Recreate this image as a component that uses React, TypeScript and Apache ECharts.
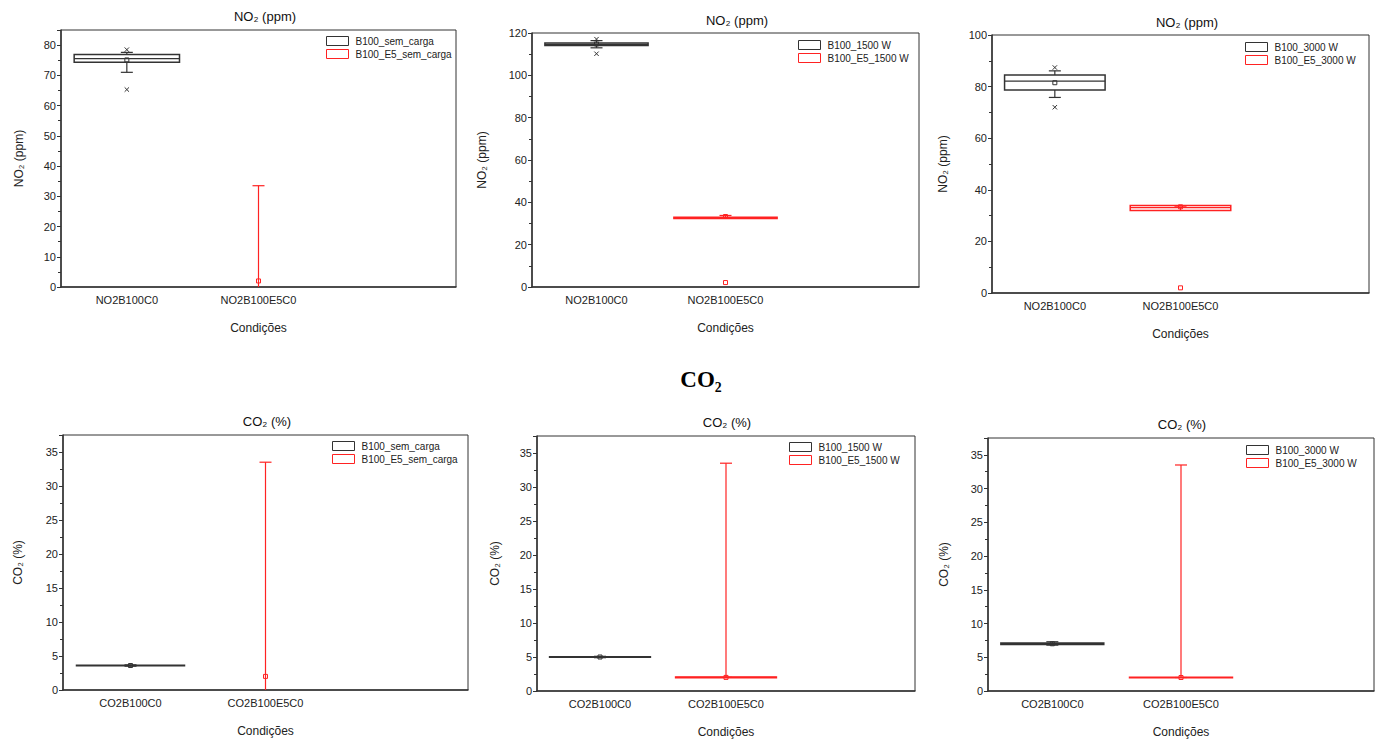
import React, { useEffect, useRef } from "react";
import * as echarts from "echarts";

// ---------- DATA ----------
const NO2_CATEGORIES = ["NO2B100C0", "NO2B100E5C0", ""];
const CO2_CATEGORIES = ["CO2B100C0", "CO2B100E5C0", ""];

// box statistics: [min, q1, median, q3, max, mean]
const NO2_B100_SEM_CARGA = [71, 74.3, 75.5, 76.9, 77.6, 75.1];
const NO2_B100_E5_SEM_CARGA = [0, 0, 0, 0, 33.5, 2];
const NO2_B100_1500 = [113, 114.1, 114.6, 115.3, 116.4, 114.8];
const NO2_B100_E5_1500 = [32.4, 32.4, 32.6, 32.9, 33.8, 33.3];
const NO2_B100_3000 = [75.8, 78.7, 82.1, 84.5, 86.1, 81.5];
const NO2_B100_E5_3000 = [33.2, 32.0, 33.1, 33.9, 33.7, 33.4];

const CO2_B100_SEM_CARGA = [3.5, 3.55, 3.6, 3.65, 3.7, 3.6];
const CO2_B100_E5_SEM_CARGA = [0, 0, 0, 0, 33.5, 2];
const CO2_B100_1500 = [4.9, 4.95, 5.0, 5.05, 5.1, 5.0];
const CO2_B100_E5_1500 = [2, 2, 2, 2, 33.5, 2];
const CO2_B100_3000 = [6.8, 6.88, 7.0, 7.12, 7.3, 7.0];
const CO2_B100_E5_3000 = [2, 2, 2, 2, 33.5, 2];

// outliers
const NO2_B100_SEM_CARGA_OUT = [65.3, 78.5];
const NO2_B100_E5_SEM_CARGA_OUT: number[] = [];
const NO2_B100_1500_OUT = [110.2, 117.1];
const NO2_B100_E5_1500_OUT = [2.1];
const NO2_B100_3000_OUT = [72.0, 87.4];
const NO2_B100_E5_3000_OUT = [2.0];

const LEGEND_NAMES = [
  ["B100_sem_carga", "B100_E5_sem_carga"],
  ["B100_1500 W", "B100_E5_1500 W"],
  ["B100_3000 W", "B100_E5_3000 W"],
];

const Y_MAX = [85, 120, 100, 37.5, 37.5, 37.5];
const Y_INTERVAL = [10, 20, 20, 5, 5, 5];

// ---------- LAYOUT / STYLE ----------
const FONT = "Liberation Sans, Arial, sans-serif";
const DARK = "#333333";
const RED = "#ff2222";

const GRIDS = [
  { left: 61, top: 30, right: 456, bottom: 287 },
  { left: 532, top: 33, right: 919, bottom: 287 },
  { left: 992, top: 35, right: 1369, bottom: 293 },
  { left: 63, top: 435, right: 468, bottom: 690 },
  { left: 537, top: 436, right: 915, bottom: 691 },
  { left: 988, top: 438, right: 1374, bottom: 691 },
];
const TITLE_POS = [
  [265, 16], [737, 20], [1187, 22],
  [267, 421], [727, 422], [1182, 424],
];
const LEGEND_POS = [
  [326, 36], [798, 40], [1245, 42],
  [332, 441], [789, 442], [1246, 445],
];
const Y_NAME_GAP = [36, 44, 43, 39, 36, 38];

function boxRender(color: string) {
  return (params: any, api: any) => {
    const cat = api.value(0);
    const cx = api.coord([cat, 0])[0];
    const band = api.size([1, 0])[0];
    const w = band * 0.8;
    const capW = 12;
    const y = (i: number) => api.coord([cat, api.value(i)])[1];
    const yMin = y(1), yQ1 = y(2), yMed = y(3), yQ3 = y(4), yMax = y(5), yMean = y(6);
    const st = { stroke: color, lineWidth: 1.2, fill: null };
    const rawH = yQ1 - yQ3;
    const h = Math.max(rawH, 0.6);
    const onBaseline = api.value(4) <= 0;
    const children: any[] = [
      { type: "line", shape: { x1: cx, y1: yMin, x2: cx, y2: yQ1 }, style: st },
      { type: "line", shape: { x1: cx, y1: yQ3, x2: cx, y2: yMax }, style: st },
      { type: "line", shape: { x1: cx - capW / 2, y1: yMax, x2: cx + capW / 2, y2: yMax }, style: st },
      { type: "rect", shape: { x: cx - 2, y: yMean - 2, width: 4, height: 4 }, style: { stroke: color, lineWidth: 1, fill: null } },
    ];
    if (!onBaseline) {
      children.push(
        { type: "line", shape: { x1: cx - capW / 2, y1: yMin, x2: cx + capW / 2, y2: yMin }, style: st },
        { type: "rect", shape: { x: cx - w / 2, y: yQ3 - (h - Math.max(rawH, 0)) / 2, width: w, height: h }, style: { ...st, lineWidth: 1.5 } },
        { type: "line", shape: { x1: cx - w / 2, y1: yMed, x2: cx + w / 2, y2: yMed }, style: st },
      );
    }
    return { type: "group", children };
  };
}

function outlierRender(color: string, kind: "cross" | "square") {
  return (params: any, api: any) => {
    const p = api.coord([api.value(0), api.value(1)]);
    const s = 2.2;
    if (kind === "square") {
      return { type: "rect", shape: { x: p[0] - 2, y: p[1] - 2, width: 4, height: 4 }, style: { stroke: color, lineWidth: 1, fill: null } };
    }
    return {
      type: "group",
      children: [
        { type: "line", shape: { x1: p[0] - s, y1: p[1] - s, x2: p[0] + s, y2: p[1] + s }, style: { stroke: color, lineWidth: 1 } },
        { type: "line", shape: { x1: p[0] - s, y1: p[1] + s, x2: p[0] + s, y2: p[1] - s }, style: { stroke: color, lineWidth: 1 } },
      ],
    };
  };
}

const PANELS = [
  { cats: NO2_CATEGORIES, black: NO2_B100_SEM_CARGA, red: NO2_B100_E5_SEM_CARGA, bo: NO2_B100_SEM_CARGA_OUT, ro: NO2_B100_E5_SEM_CARGA_OUT, names: LEGEND_NAMES[0], title: "NO₂ (ppm)" },
  { cats: NO2_CATEGORIES, black: NO2_B100_1500, red: NO2_B100_E5_1500, bo: NO2_B100_1500_OUT, ro: NO2_B100_E5_1500_OUT, names: LEGEND_NAMES[1], title: "NO₂ (ppm)" },
  { cats: NO2_CATEGORIES, black: NO2_B100_3000, red: NO2_B100_E5_3000, bo: NO2_B100_3000_OUT, ro: NO2_B100_E5_3000_OUT, names: LEGEND_NAMES[2], title: "NO₂ (ppm)" },
  { cats: CO2_CATEGORIES, black: CO2_B100_SEM_CARGA, red: CO2_B100_E5_SEM_CARGA, bo: [], ro: [], names: LEGEND_NAMES[0], title: "CO₂ (%)" },
  { cats: CO2_CATEGORIES, black: CO2_B100_1500, red: CO2_B100_E5_1500, bo: [], ro: [], names: LEGEND_NAMES[1], title: "CO₂ (%)" },
  { cats: CO2_CATEGORIES, black: CO2_B100_3000, red: CO2_B100_E5_3000, bo: [], ro: [], names: LEGEND_NAMES[2], title: "CO₂ (%)" },
];

export default function App() {
  const ref = useRef<HTMLDivElement>(null);
  useEffect(() => {
    if (!ref.current) return;
    const chart = echarts.init(ref.current, undefined, { renderer: "svg" });

    const grid: any[] = [];
    const xAxis: any[] = [];
    const yAxis: any[] = [];
    const legend: any[] = [];
    const series: any[] = [];
    const graphic: any[] = [];

    PANELS.forEach((p, i) => {
      const g = GRIDS[i];
      grid.push({
        left: g.left, top: g.top, width: g.right - g.left, height: g.bottom - g.top,
        show: true, borderColor: DARK, borderWidth: 1, backgroundColor: "transparent",
      });
      xAxis.push({
        gridIndex: i, type: "category", data: p.cats, boundaryGap: true,
        axisLine: { lineStyle: { color: DARK, width: 1.5 } },
        axisTick: { alignWithLabel: true, length: 4, lineStyle: { color: DARK } },
        axisLabel: { interval: 0, fontSize: 11, color: "#222", margin: 7, fontFamily: FONT },
        splitLine: { show: false },
        name: "Condições", nameLocation: "middle", nameGap: 35,
        nameTextStyle: { fontSize: 12, color: "#222", fontFamily: FONT },
      });
      const iv = Y_INTERVAL[i];
      yAxis.push({
        gridIndex: i, type: "value", min: 0, max: Y_MAX[i], interval: iv,
        axisLine: { show: true, lineStyle: { color: DARK, width: 1.5 } },
        axisTick: { show: true, length: 4, lineStyle: { color: DARK } },
        minorTick: { show: true, splitNumber: 2, length: 3, lineStyle: { color: DARK } },
        splitLine: { show: false },
        axisLabel: {
          fontSize: 11, color: "#222", margin: 5, fontFamily: FONT,
          formatter: (v: number) => (Math.abs(v / iv - Math.round(v / iv)) < 1e-9 ? String(v) : ""),
        },
        name: p.title, nameLocation: "middle", nameGap: Y_NAME_GAP[i],
        nameTextStyle: { fontSize: 12, color: "#222", fontFamily: FONT },
      });
      legend.push({
        orient: "vertical", left: LEGEND_POS[i][0], top: LEGEND_POS[i][1],
        itemWidth: 22, itemHeight: 9, itemGap: 3, padding: 0,
        textStyle: { fontSize: 10, color: "#222", fontFamily: FONT, padding: [0, 0, 0, 2] },
        data: [
          { name: p.names[0], icon: "rect", itemStyle: { color: "#fff", borderColor: DARK, borderWidth: 1 } },
          { name: p.names[1], icon: "rect", itemStyle: { color: "#fff", borderColor: RED, borderWidth: 1 } },
        ],
        selectedMode: false,
      });
      series.push({
        type: "custom", name: p.names[0], xAxisIndex: i, yAxisIndex: i, color: DARK,
        renderItem: boxRender(DARK), encode: { x: 0, y: [1, 2, 3, 4, 5] },
        data: [[0, ...p.black]], clip: false,
      });
      series.push({
        type: "custom", name: p.names[1], xAxisIndex: i, yAxisIndex: i, color: RED,
        renderItem: boxRender(RED), encode: { x: 0, y: [1, 2, 3, 4, 5] },
        data: [[1, ...p.red]], clip: false,
      });
      if (p.bo.length) {
        series.push({
          type: "custom", name: p.names[0], xAxisIndex: i, yAxisIndex: i, color: DARK,
          renderItem: outlierRender(DARK, "cross"), encode: { x: 0, y: 1 },
          data: p.bo.map((v) => [0, v]),
        });
      }
      if (p.ro.length) {
        series.push({
          type: "custom", name: p.names[1], xAxisIndex: i, yAxisIndex: i, color: RED,
          renderItem: outlierRender(RED, "square"), encode: { x: 0, y: 1 },
          data: p.ro.map((v) => [1, v]),
        });
      }
      graphic.push({
        type: "text", x: TITLE_POS[i][0], y: TITLE_POS[i][1],
        style: { text: p.title, fontSize: 13, fill: "#111", fontFamily: FONT, align: "center", verticalAlign: "middle" },
      });
    });

    graphic.push({
      type: "text", x: 701, y: 379,
      style: { text: "CO₂", fontSize: 23, fontWeight: "bold", fill: "#000", fontFamily: "Liberation Serif, Times New Roman, serif", align: "center", verticalAlign: "middle" },
    });

    chart.setOption({
      animation: false,
      backgroundColor: "#ffffff",
      grid, xAxis, yAxis, legend, series, graphic,
    });
    return () => chart.dispose();
  }, []);

  return <div ref={ref} style={{ position: "absolute", left: 0, top: 0, width: 1379, height: 740 }} />;
}
